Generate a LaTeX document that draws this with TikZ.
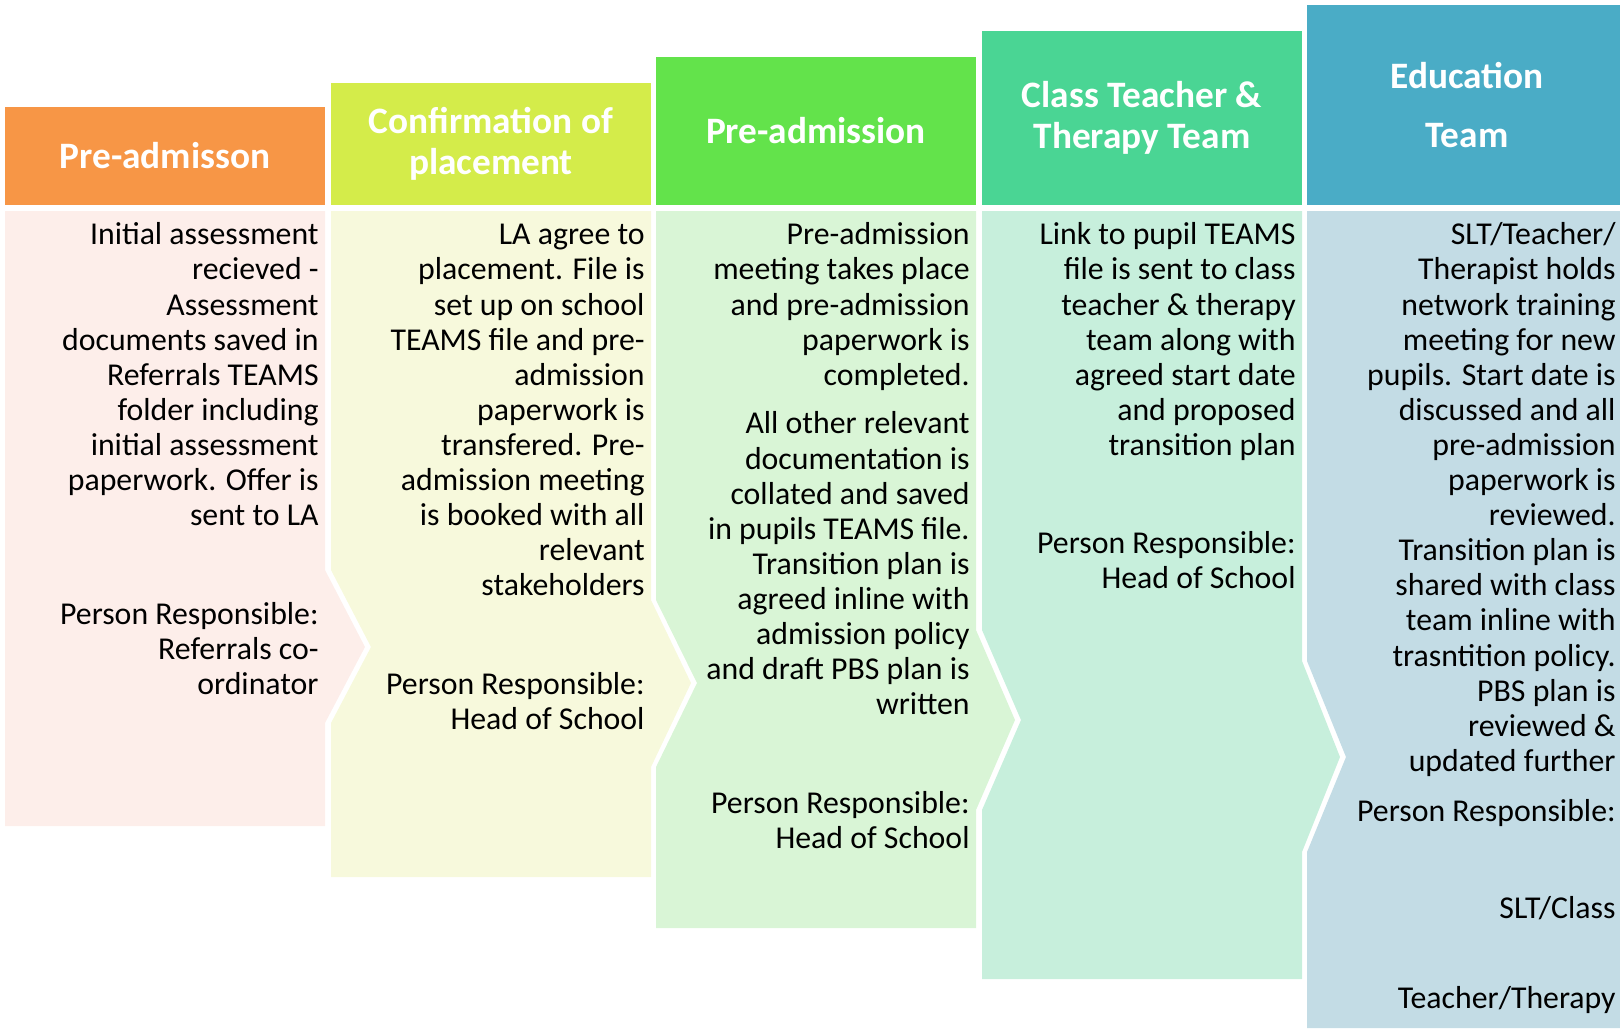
\documentclass[tikz,border=0pt]{standalone}
\usepackage{fontspec}
\setmainfont{Carlito}
\usepackage{xcolor}
\usepackage{tikz}
\definecolor{admHead}{HTML}{F79646}
\definecolor{admBody}{HTML}{FDEEEA}
\definecolor{confHead}{HTML}{D4EC4A}
\definecolor{confBody}{HTML}{F7F9DC}
\definecolor{preHead}{HTML}{63E34B}
\definecolor{preBody}{HTML}{D9F5D6}
\definecolor{teamHead}{HTML}{4AD594}
\definecolor{teamBody}{HTML}{C7EFDC}
\definecolor{eduHead}{HTML}{4AACC6}
\definecolor{eduBody}{HTML}{C3DCE5}

\begin{document}
\begin{tikzpicture}[
          x=0.5pt,y=-0.5pt,
          headbox/.style={fill=#1,text=white,inner sep=0pt,align=center,minimum width=160pt,
            font=\fontsize{18.65}{20.65}\selectfont\bfseries},
          bodytext/.style={anchor=north east,yshift=10.8pt,align=right,inner sep=0pt,
            font=\fontsize{15.9}{17.55}\selectfont}
        ]
        \useasboundingbox (0,0) rectangle (1620,1028);
        \fill [admBody] (5,211) -- (325,211) -- (325,570) -- (365,647) -- (325,723) -- (325,826) -- (5,826) -- cycle;
        \fill [confBody] (331,211) -- (651,211) -- (651,600) -- (691,683) -- (651,767) -- (651,877)
            -- (331,877) -- (331,723) -- (371,647) -- (331,570) -- cycle;
        \fill [preBody] (656,211) -- (976,211) -- (976,630) -- (1015,720) -- (976,810) -- (976,928)
            -- (656,928) -- (656,767) -- (697,683) -- (656,600) -- cycle;
        \fill [teamBody] (982,211) -- (1302,211) -- (1302,661) -- (1340,757) -- (1302,852) -- (1302,979)
            -- (982,979) -- (982,810) -- (1021,720) -- (982,630) -- cycle;
        \fill [eduBody] (1307,211) -- (1627,211) -- (1627,1028) -- (1307,1028) -- (1307,852) -- (1346,757) -- (1307,661) -- cycle;

        \node [headbox=admHead,minimum height=49pt] (h1) at (165,156) {Pre-admisson};
        \node [headbox=confHead,minimum height=61pt] (h2) at (491,144) {Confirmation of\\placement};
        \node [headbox=preHead,minimum height=74pt] (h3) at (816,131) {Pre-admission};
        \node [headbox=teamHead,minimum height=87pt] (h4) at (1142,118) {Class Teacher \&\\Therapy Team};
        \node [headbox=eduHead,minimum height=100pt] (h5) at (1467,105) {Education\\[8.4pt]Team};

        \node [bodytext] (d1) at (319,241.5) {\strut Initial assessment\\recieved -\\Assessment\\documents saved in\\Referrals TEAMS\\folder including\\initial assessment\\paperwork. Offer is\\sent to LA};
        \node [bodytext] (r1) at (319,620.7) {\strut Person Responsible:\\Referrals co-\\ordinator};

        \node [bodytext] (d2) at (645,241.5) {\strut LA agree to\\placement. File is\\set up on school\\TEAMS file and pre-\\admission\\paperwork is\\transfered. Pre-\\admission meeting\\is booked with all\\relevant\\stakeholders};
        \node [bodytext] (r2) at (645,691) {\strut Person Responsible:\\Head of School};

        \node [bodytext] (d3) at (970,241.5) {\strut Pre-admission\\meeting takes place\\and pre-admission\\paperwork is\\completed.};
        \node [bodytext] (e3) at (970,430.6) {\strut All other relevant\\documentation is\\collated and saved\\in pupils TEAMS file.\\Transition plan is\\agreed inline with\\admission policy\\and draft PBS plan is\\written};
        \node [bodytext] (r3) at (970,809.8) {\strut Person Responsible:\\Head of School};

        \node [bodytext] (d4) at (1296,241.5) {\strut Link to pupil TEAMS\\file is sent to class\\teacher \& therapy\\team along with\\agreed start date\\and proposed\\transition plan};
        \node [bodytext] (r4) at (1296,550.4) {\strut Person Responsible:\\Head of School};

        \node [bodytext] (d5) at (1616,241.5) {\strut SLT/Teacher/\\Therapist holds\\network training\\meeting for new\\pupils. Start date is\\discussed and all\\pre-admission\\paperwork is\\reviewed.\\Transition plan is\\shared with class\\team inline with\\trasntition policy.\\PBS plan is\\reviewed \&\\updated further};
        \node [bodytext] (r5) at (1616,818) {\strut Person Responsible:};
        \node [bodytext] (s5) at (1616,915) {\strut SLT/Class};
        \node [bodytext] (t5) at (1616,1005) {\strut Teacher/Therapy};
    \end{tikzpicture}
\end{document}
